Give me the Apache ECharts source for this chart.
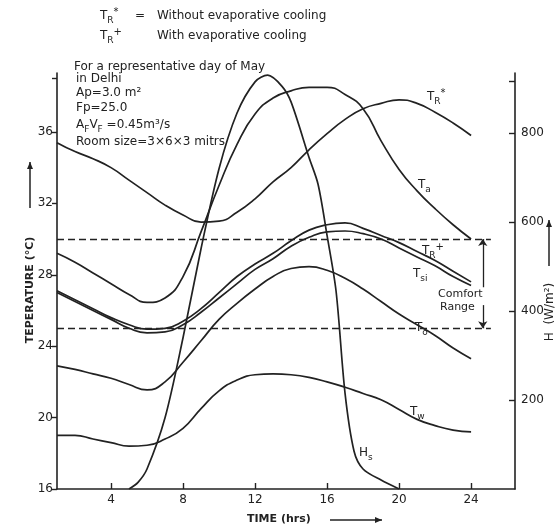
<!DOCTYPE html>
<html>
<head>
<meta charset="utf-8">
<script src="https://cdn.jsdelivr.net/npm/echarts@6/dist/echarts.min.js"></script>
<style>
  html, body { margin: 0; background: #fff; }
  #chart { width: 559px; height: 530px; }
</style>
</head>
<body>
<div id="chart"></div>
<script>
// hours of the day
const hours = [1, 2, 3, 4, 5, 6, 7, 8, 9, 10, 11, 12, 13, 14, 15, 16, 17, 18, 19, 20, 21, 22, 23, 24];
// room temp without evaporative cooling
const trStar = [35.4, 34.9, 34.5, 34.0, 33.3, 32.6, 31.9, 31.35, 30.95, 31.0, 31.5, 32.25, 33.2, 34.0, 35.0, 35.9, 36.7, 37.3, 37.6, 37.8, 37.6, 37.1, 36.5, 35.8];
// ambient
const ta = [29.2, 28.7, 28.1, 27.5, 26.9, 26.45, 26.7, 27.9, 30.4, 33.0, 35.3, 37.0, 37.9, 38.3, 38.5, 38.5, 38.1, 37.3, 35.5, 33.9, 32.7, 31.7, 30.8, 30.0];
// room temp with evaporative cooling
const trPlus = [27.1, 26.6, 26.1, 25.6, 25.2, 24.95, 25.0, 25.4, 26.1, 27.0, 27.9, 28.6, 29.2, 29.9, 30.5, 30.8, 30.9, 30.6, 30.2, 29.8, 29.3, 28.8, 28.2, 27.6];
const tsi = [27.0, 26.5, 26.0, 25.5, 25.0, 24.75, 24.8, 25.2, 25.9, 26.7, 27.5, 28.3, 28.9, 29.6, 30.1, 30.4, 30.45, 30.3, 30.0, 29.5, 29.0, 28.5, 27.9, 27.4];
const to = [22.9, 22.7, 22.45, 22.2, 21.85, 21.55, 22.0, 23.1, 24.3, 25.5, 26.4, 27.2, 27.9, 28.35, 28.45, 28.25, 27.8, 27.2, 26.5, 25.8, 25.2, 24.6, 23.9, 23.3];
const tw = [19.0, 19.0, 18.8, 18.6, 18.4, 18.45, 18.8, 19.4, 20.5, 21.5, 22.1, 22.4, 22.45, 22.4, 22.25, 22.0, 21.7, 21.35, 21.0, 20.45, 19.9, 19.55, 19.3, 19.2];
// solar radiation (right axis)
const hsHours = [5, 5.5, 6, 7, 8, 9, 10, 11, 12, 12.7, 13.5, 14, 15, 15.5, 16, 16.5, 17, 17.5, 18, 19, 20];
const hsVals = [0, 15, 45, 160, 340, 540, 720, 845, 915, 930, 905, 870, 745, 685, 570, 445, 215, 85, 45, 20, 0];

const xTicks = [4, 8, 12, 16, 20, 24];
const tTicks = [16, 20, 24, 28, 32, 36];
const hTicks = [200, 400, 600, 800];
const comfortHigh = 30, comfortLow = 25;

const ink = '#222';
const font = 'DejaVu Sans';

const pairs = (xs, ys) => xs.map((x, i) => [x, ys[i]]);

function curve(name, data, yAxisIndex, smooth) {
  return {
    name: name,
    type: 'line',
    yAxisIndex: yAxisIndex || 0,
    data: data,
    smooth: smooth || 0.5,
    showSymbol: false,
    silent: true,
    lineStyle: { color: ink, width: 1.7 },
  };
}

const twSeries = curve('Tw', pairs(hours, tw));
twSeries.markLine = {
  silent: true,
  animation: false,
  symbolSize: 7,
  label: { show: false },
  lineStyle: { color: ink, width: 1.3, type: [7, 4] },
  data: [
    [{ coord: [1, comfortHigh], symbol: 'none' }, { coord: [25.1, comfortHigh], symbol: 'none' }],
    [{ coord: [1, comfortLow], symbol: 'none' }, { coord: [25.1, comfortLow], symbol: 'none' }],
    [{ coord: [24.65, 27.3], symbol: 'none', lineStyle: { type: 'solid', width: 1.3 } }, { coord: [24.65, comfortHigh], symbol: 'arrow' }],
    [{ coord: [24.65, 26.3], symbol: 'none', lineStyle: { type: 'solid', width: 1.3 } }, { coord: [24.65, comfortLow], symbol: 'arrow' }],
  ],
};

const rich = {
  m: { fontSize: 12, fontFamily: font, color: ink, lineHeight: 18, verticalAlign: 'middle' },
  s: { fontSize: 9, fontFamily: font, color: ink, lineHeight: 18, verticalAlign: 'bottom' },
  p: { fontSize: 10, fontFamily: font, color: ink, lineHeight: 18, verticalAlign: 'top' },
};

function txt(x, y, text, opts) {
  opts = opts || {};
  return {
    type: 'text', x: x, y: y, rotation: opts.rotation || 0, silent: true,
    style: {
      text: text,
      font: (opts.weight || 'normal') + ' ' + (opts.size || 12) + 'px ' + font,
      fill: ink,
      textAlign: opts.align || 'left',
      textVerticalAlign: 'middle',
      rich: rich,
    },
  };
}

function arrow(x1, y1, x2, y2) {
  const a = Math.atan2(y2 - y1, x2 - x1), L = 7, W = 3;
  return [
    { type: 'line', silent: true, shape: { x1: x1, y1: y1, x2: x2, y2: y2 }, style: { stroke: ink, lineWidth: 1.5 } },
    { type: 'polygon', silent: true, shape: { points: [
      [x2, y2],
      [x2 - L * Math.cos(a) + W * Math.sin(a), y2 - L * Math.sin(a) - W * Math.cos(a)],
      [x2 - L * Math.cos(a) - W * Math.sin(a), y2 - L * Math.sin(a) + W * Math.cos(a)],
    ] }, style: { fill: ink } },
  ];
}

const graphics = [
  // legend
  txt(100, 16, '{m|T}{s|R}{p|*}'),
  txt(135, 16, '='),
  txt(157, 16, 'Without evaporative cooling'),
  txt(100, 36, '{m|T}{s|R}{p|+}'),
  txt(157, 36, 'With evaporative cooling'),
  // notes
  txt(74, 67, 'For a representative day of May'),
  txt(76, 79, 'in Delhi'),
  txt(76, 93, 'Ap=3.0 m²'),
  txt(76, 108, 'Fp=25.0'),
  txt(76, 125, '{m|A}{s|F}{m|V}{s|F} {m|=0.45m³/s}'),
  txt(76, 142, 'Room size=3×6×3 mitrs'),
  // curve labels
  txt(427, 97, '{m|T}{s|R}{p|*}'),
  txt(418, 185, '{m|T}{s|a}'),
  txt(422, 251, '{m|T}{s|R}{p|+}'),
  txt(413, 274, '{m|T}{s|si}'),
  txt(438, 294, 'Comfort', { size: 11 }),
  txt(440, 307, 'Range', { size: 11 }),
  txt(415, 328, '{m|T}{s|o}'),
  txt(410, 412, '{m|T}{s|w}'),
  txt(359, 453, '{m|H}{s|s}'),
  // axis titles
  txt(30, 290, 'TEPERATURE (°C)', { rotation: Math.PI / 2, align: 'center', weight: 'bold', size: 11 }),
  txt(550, 312, 'H  (W/m²)', { rotation: Math.PI / 2, align: 'center', size: 12 }),
  txt(247, 519, 'TIME (hrs)', { weight: 'bold', size: 11 }),
].concat(
  arrow(30, 208, 30, 162),
  arrow(549, 266, 549, 220),
  arrow(330, 520, 382, 520)
);

const chart = echarts.init(document.getElementById('chart'));
chart.setOption({
  animation: false,
  backgroundColor: '#fff',
  grid: { left: 57, right: 44, top: 73, bottom: 41 },
  xAxis: {
    type: 'value', min: 1, max: 26.44,
    splitLine: { show: false },
    axisLine: { lineStyle: { color: ink, width: 1.6 } },
    axisTick: { inside: true, length: 6, customValues: xTicks, lineStyle: { color: ink, width: 1.4 } },
    axisLabel: { customValues: xTicks, color: ink, fontSize: 12, fontFamily: font, margin: 5 },
  },
  yAxis: [
    {
      type: 'value', min: 16, max: 39.3, position: 'left',
      splitLine: { show: false },
      axisLine: { show: true, lineStyle: { color: ink, width: 1.6 } },
      axisTick: { show: true, length: 5, customValues: tTicks.concat([39]), lineStyle: { color: ink, width: 1.4 } },
      axisLabel: { customValues: tTicks, color: ink, fontSize: 12, fontFamily: font, margin: 4 },
    },
    {
      type: 'value', min: 0, max: 935, position: 'right',
      splitLine: { show: false },
      axisLine: { show: true, lineStyle: { color: ink, width: 1.6 } },
      axisTick: { show: true, inside: true, length: 6, customValues: hTicks.concat([917]), lineStyle: { color: ink, width: 1.4 } },
      axisLabel: { customValues: hTicks, color: ink, fontSize: 12, fontFamily: font, margin: 6 },
    },
  ],
  series: [
    curve('TR*', pairs(hours, trStar)),
    curve('Ta', pairs(hours, ta)),
    curve('TR+', pairs(hours, trPlus)),
    curve('Tsi', pairs(hours, tsi)),
    curve('To', pairs(hours, to)),
    twSeries,
    curve('Hs', pairs(hsHours, hsVals), 1, 0.3),
  ],
  graphic: graphics,
});
</script>
</body>
</html>
